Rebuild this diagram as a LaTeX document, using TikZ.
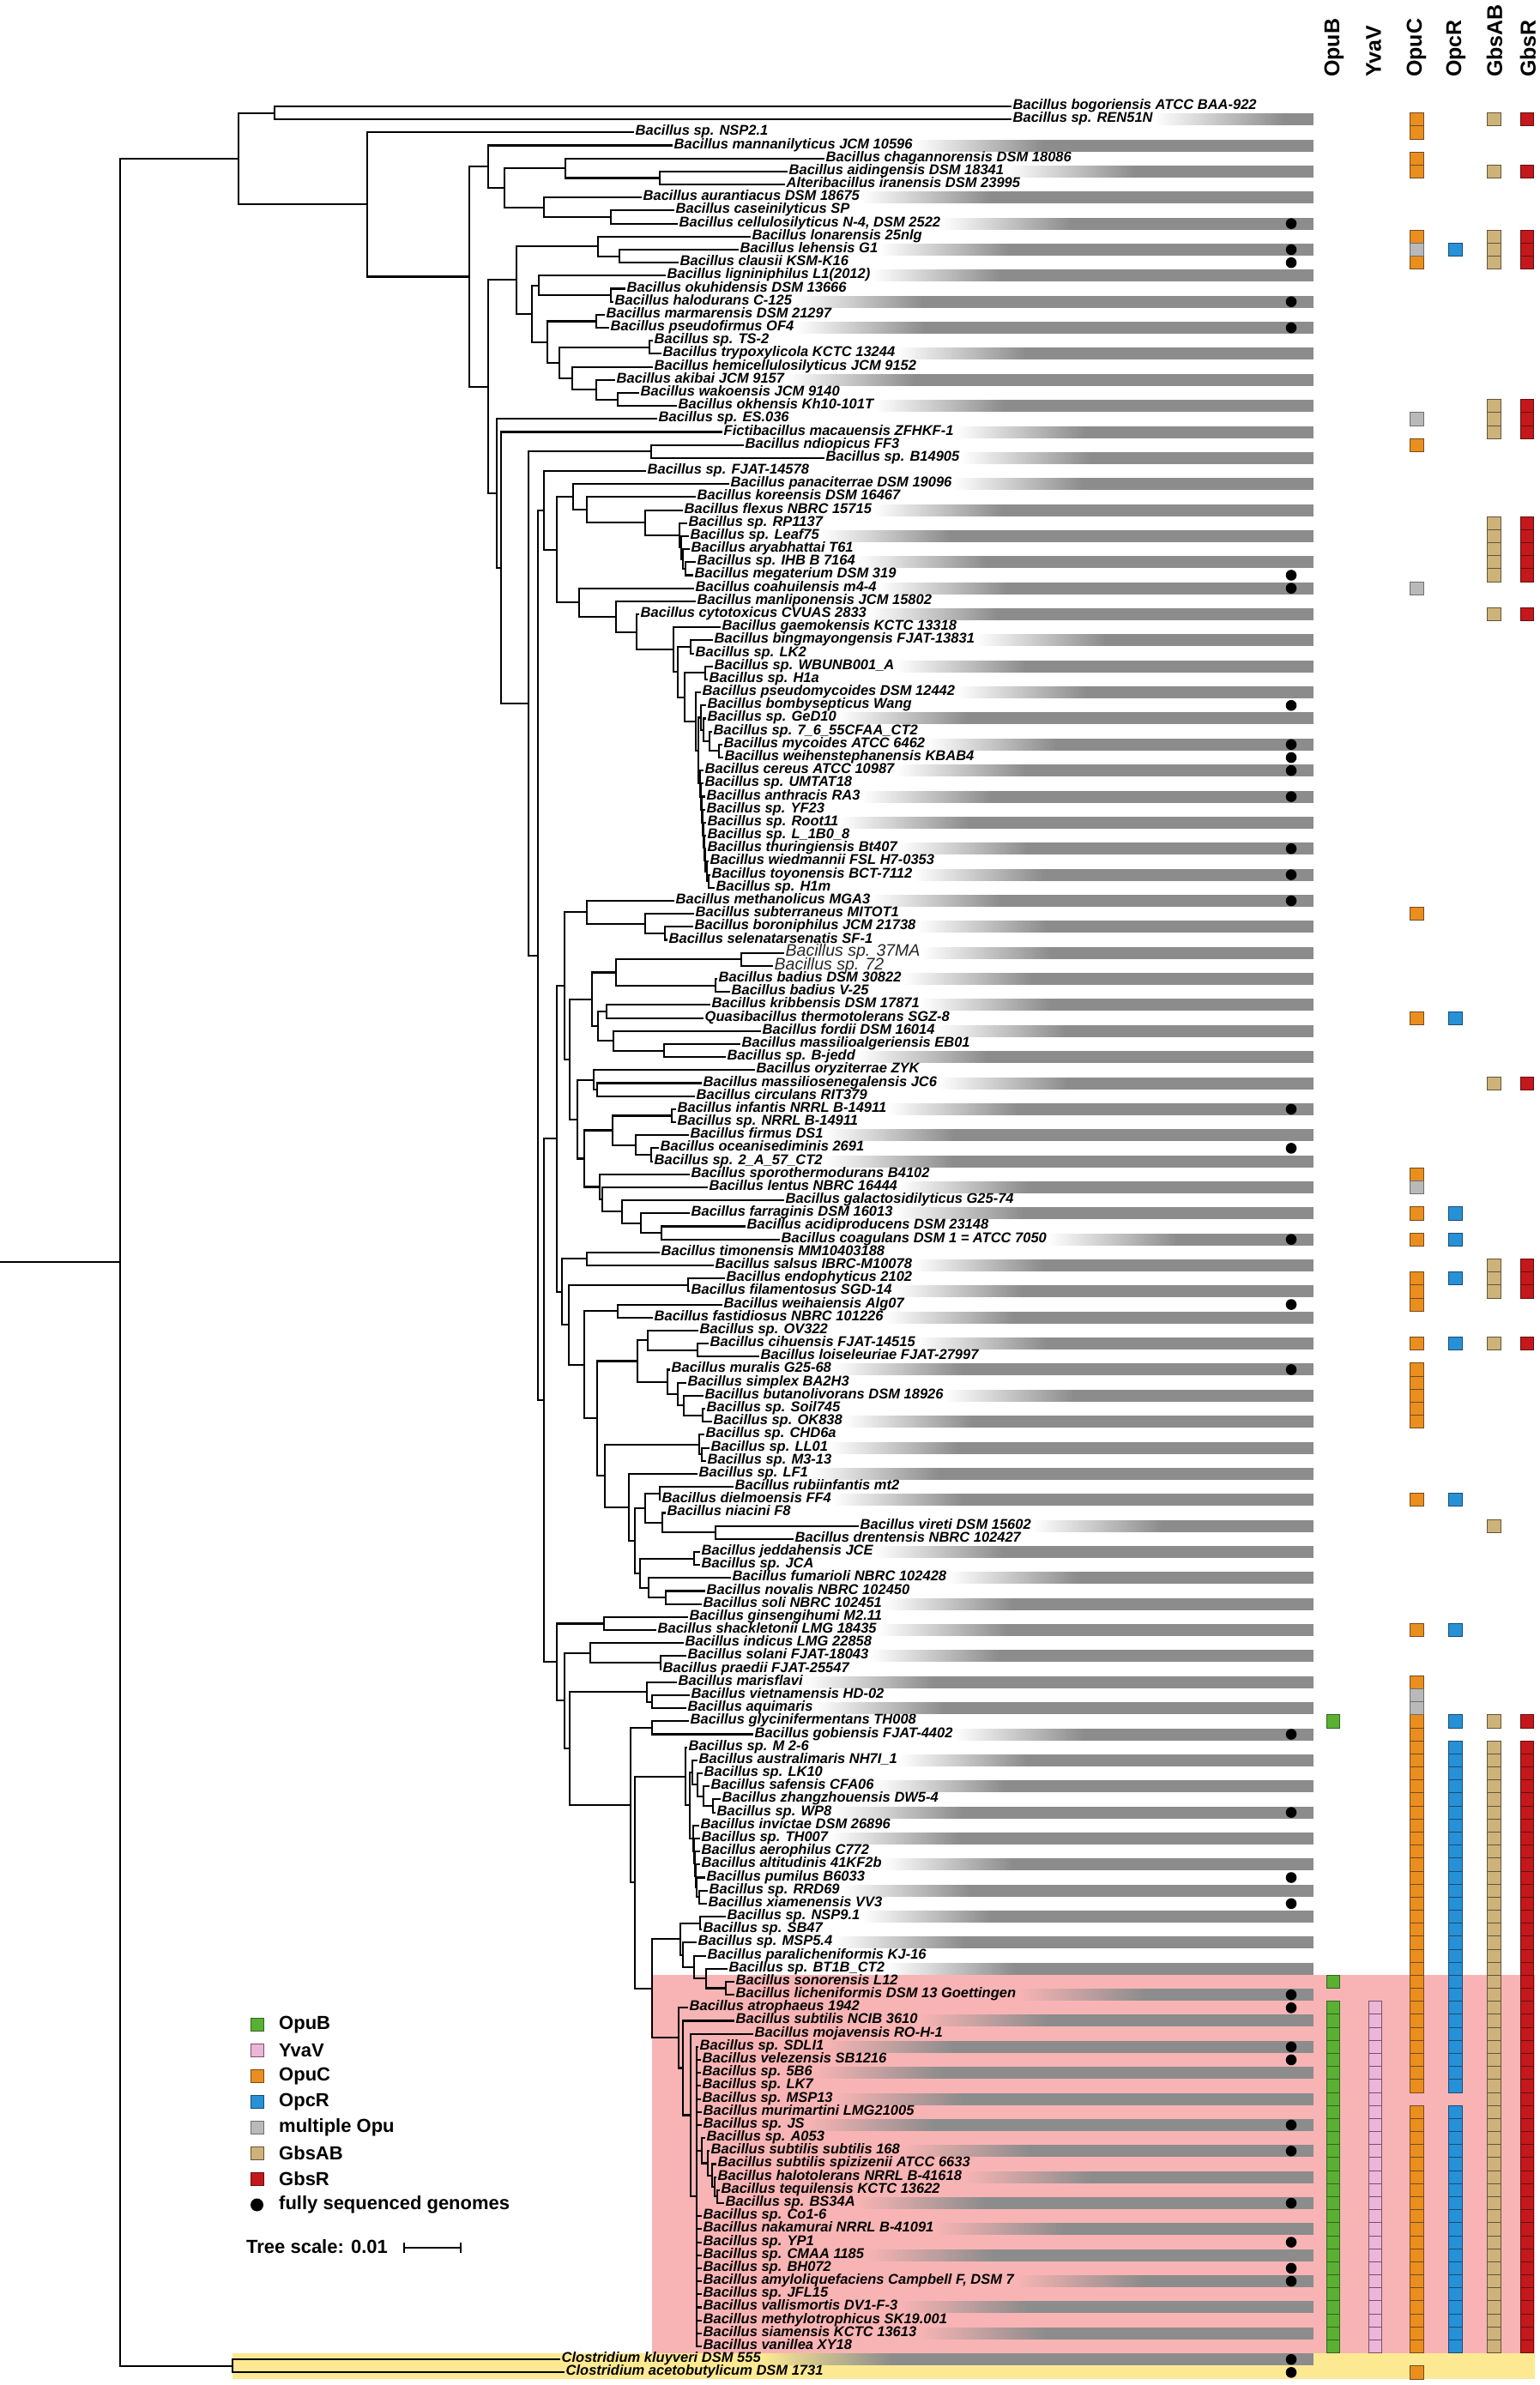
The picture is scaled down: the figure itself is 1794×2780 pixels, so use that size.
\documentclass[tikz,border=0pt]{standalone}
\usepackage{fontspec}
\setmainfont{Liberation Sans}
\usetikzlibrary{calc,fadings}
\definecolor{opub}{RGB}{90,176,50}\definecolor{opubd}{RGB}{50,100,30}
\definecolor{yvav}{RGB}{236,182,216}\definecolor{yvavd}{RGB}{120,80,105}
\definecolor{opuc}{RGB}{234,142,30}\definecolor{opucd}{RGB}{115,75,30}
\definecolor{opcr}{RGB}{38,145,215}\definecolor{opcrd}{RGB}{25,75,115}
\definecolor{multi}{RGB}{185,185,185}\definecolor{multid}{RGB}{110,110,110}
\definecolor{gbsab}{RGB}{205,178,122}\definecolor{gbsabd}{RGB}{100,85,55}
\definecolor{gbsr}{RGB}{196,24,28}\definecolor{gbsrd}{RGB}{100,15,15}
\definecolor{pinkhl}{RGB}{248,180,180}
\definecolor{yelhl}{RGB}{253,233,146}
\definecolor{barg}{RGB}{140,140,140}
\tikzfading[name=fadein, left color=transparent!100, right color=transparent!0]
\newcommand\lf[3]{\node[lbl] (L#1) at ({#2-2},{124+15.18*(#1-1)}) {#3};}
\newcommand\lfs[3]{\node[lbls] (L#1) at ({#2-2},{124+15.18*(#1-1)}) {#3};}
\newcommand\clade[3]{%
  \foreach \ch [count=\ci] in {#3}{\ifnum\ci=1 \global\let\cfirst\ch\fi\global\let\clast\ch}%
  \path let \p1=(\cfirst), \p2=(\clast) in node[tn] (#1) at (#2pt,{0.5*(\y1+\y2)}) {};%
  \foreach \ch in {#3}{\draw[br] (#1.west) |- (\ch.west);}%
}
\newcommand\rowbar[1]{%
  \fill[barg,path fading=fadein] ($(L#1.east)+(1,-7)$) rectangle ($(L#1.east)+(151,7)$);%
  \fill[barg] ($(L#1.east)+(150,-7)$) rectangle ($(L#1.east -| barend)+(0,7)$);}
\newcommand\mksq[3]{\filldraw[line width=0.8pt,fill=#3,draw=#3d] ({#1-7.7},{124+15.18*(#2-1)-7.59}) rectangle ({#1+7.7},{124+15.18*(#2-1)+7.59});}
\begin{document}
\begin{tikzpicture}[x=1pt,y=-1pt,
  lbl/.style={anchor=west,inner sep=1.5pt,text height=11pt,text depth=4pt,font=\bfseries\itshape\fontsize{16.5}{16.5}\selectfont},
  lbls/.style={anchor=west,inner sep=1.5pt,text height=13pt,text depth=4.5pt,font=\itshape\fontsize{19.5}{19.5}\selectfont,text=black!85},
  tn/.style={inner sep=0pt,minimum size=0pt,outer sep=0pt},
  br/.style={line width=2.1pt},
  hdr/.style={rotate=90,anchor=west,inner sep=0pt,font=\bfseries\fontsize{25}{25}\selectfont},
  legtxt/.style={anchor=west,inner sep=0pt,font=\bfseries\fontsize{22}{22}\selectfont}]
\useasboundingbox[fill=white] (0,0) rectangle (1794,2780);
\coordinate (barend) at (1531,0);
\coordinate (x0) at (0,0);
% highlights
\fill[pinkhl] (760,2302.3) rectangle (1789,2742.6);
\fill[yelhl] (271,2742.6) rectangle (1789,2772.8);
% headers
\foreach \t/\x in {OpuB/1555,YvaV/1601,OpuC/1651,OpcR/1697,GbsAB/1742,GbsR/1781}{\node[hdr] (h\t) at (\x,90) {\t};}
% leaves
\lf{1}{1181}{Bacillus bogoriensis ATCC BAA-922}
\lf{2}{1181}{Bacillus sp. REN51N}
\lf{3}{741}{Bacillus sp. NSP2.1}
\lf{4}{786}{Bacillus mannanilyticus JCM 10596}
\lf{5}{963}{Bacillus chagannorensis DSM 18086}
\lf{6}{920}{Bacillus aidingensis DSM 18341}
\lf{7}{917}{Alteribacillus iranensis DSM 23995}
\lf{8}{750}{Bacillus aurantiacus DSM 18675}
\lf{9}{788}{Bacillus caseinilyticus SP}
\lf{10}{792}{Bacillus cellulosilyticus N-4, DSM 2522}
\lf{11}{877}{Bacillus lonarensis 25nlg}
\lf{12}{863}{Bacillus lehensis G1}
\lf{13}{793}{Bacillus clausii KSM-K16}
\lf{14}{778}{Bacillus ligniniphilus L1(2012)}
\lf{15}{731}{Bacillus okuhidensis DSM 13666}
\lf{16}{717}{Bacillus halodurans C-125}
\lf{17}{707}{Bacillus marmarensis DSM 21297}
\lf{18}{712}{Bacillus pseudofirmus OF4}
\lf{19}{763}{Bacillus sp. TS-2}
\lf{20}{773}{Bacillus trypoxylicola KCTC 13244}
\lf{21}{763}{Bacillus hemicellulosilyticus JCM 9152}
\lf{22}{719}{Bacillus akibai JCM 9157}
\lf{23}{747}{Bacillus wakoensis JCM 9140}
\lf{24}{791}{Bacillus okhensis Kh10-101T}
\lf{25}{768}{Bacillus sp. ES.036}
\lf{26}{844}{Fictibacillus macauensis ZFHKF-1}
\lf{27}{869}{Bacillus ndiopicus FF3}
\lf{28}{963}{Bacillus sp. B14905}
\lf{29}{755}{Bacillus sp. FJAT-14578}
\lf{30}{852}{Bacillus panaciterrae DSM 19096}
\lf{31}{813}{Bacillus koreensis DSM 16467}
\lf{32}{798}{Bacillus flexus NBRC 15715}
\lf{33}{803}{Bacillus sp. RP1137}
\lf{34}{805}{Bacillus sp. Leaf75}
\lf{35}{806}{Bacillus aryabhattai T61}
\lf{36}{813}{Bacillus sp. IHB B 7164}
\lf{37}{810}{Bacillus megaterium DSM 319}
\lf{38}{811}{Bacillus coahuilensis m4-4}
\lf{39}{813}{Bacillus manliponensis JCM 15802}
\lf{40}{747}{Bacillus cytotoxicus CVUAS 2833}
\lf{41}{842}{Bacillus gaemokensis KCTC 13318}
\lf{42}{833}{Bacillus bingmayongensis FJAT-13831}
\lf{43}{811}{Bacillus sp. LK2}
\lf{44}{833}{Bacillus sp. WBUNB001\_A}
\lf{45}{827}{Bacillus sp. H1a}
\lf{46}{819}{Bacillus pseudomycoides DSM 12442}
\lf{47}{825}{Bacillus bombysepticus Wang}
\lf{48}{825}{Bacillus sp. GeD10}
\lf{49}{832}{Bacillus sp. 7\_6\_55CFAA\_CT2}
\lf{50}{844}{Bacillus mycoides ATCC 6462}
\lf{51}{845}{Bacillus weihenstephanensis KBAB4}
\lf{52}{822}{Bacillus cereus ATCC 10987}
\lf{53}{822}{Bacillus sp. UMTAT18}
\lf{54}{824}{Bacillus anthracis RA3}
\lf{55}{824}{Bacillus sp. YF23}
\lf{56}{825}{Bacillus sp. Root11}
\lf{57}{825}{Bacillus sp. L\_1B0\_8}
\lf{58}{825}{Bacillus thuringiensis Bt407}
\lf{59}{828}{Bacillus wiedmannii FSL H7-0353}
\lf{60}{830}{Bacillus toyonensis BCT-7112}
\lf{61}{835}{Bacillus sp. H1m}
\lf{62}{788}{Bacillus methanolicus MGA3}
\lf{63}{811}{Bacillus subterraneus MITOT1}
\lf{64}{810}{Bacillus boroniphilus JCM 21738}
\lf{65}{780}{Bacillus selenatarsenatis SF-1}
\lfs{66}{916}{Bacillus sp. 37MA}
\lfs{67}{903}{Bacillus sp. 72}
\lf{68}{838}{Bacillus badius DSM 30822}
\lf{69}{853}{Bacillus badius V-25}
\lf{70}{830}{Bacillus kribbensis DSM 17871}
\lf{71}{822}{Quasibacillus thermotolerans SGZ-8}
\lf{72}{889}{Bacillus fordii DSM 16014}
\lf{73}{865}{Bacillus massilioalgeriensis EB01}
\lf{74}{848}{Bacillus sp. B-jedd}
\lf{75}{882}{Bacillus oryziterrae ZYK}
\lf{76}{820}{Bacillus massiliosenegalensis JC6}
\lf{77}{812}{Bacillus circulans RIT379}
\lf{78}{790}{Bacillus infantis NRRL B-14911}
\lf{79}{790}{Bacillus sp. NRRL B-14911}
\lf{80}{805}{Bacillus firmus DS1}
\lf{81}{770}{Bacillus oceanisediminis 2691}
\lf{82}{763}{Bacillus sp. 2\_A\_57\_CT2}
\lf{83}{806}{Bacillus sporothermodurans B4102}
\lf{84}{827}{Bacillus lentus NBRC 16444}
\lf{85}{916}{Bacillus galactosidilyticus G25-74}
\lf{86}{806}{Bacillus farraginis DSM 16013}
\lf{87}{871}{Bacillus acidiproducens DSM 23148}
\lf{88}{911}{Bacillus coagulans DSM 1 = ATCC 7050}
\lf{89}{771}{Bacillus timonensis MM10403188}
\lf{90}{834}{Bacillus salsus IBRC-M10078}
\lf{91}{847}{Bacillus endophyticus 2102}
\lf{92}{806}{Bacillus filamentosus SGD-14}
\lf{93}{844}{Bacillus weihaiensis Alg07}
\lf{94}{763}{Bacillus fastidiosus NBRC 101226}
\lf{95}{816}{Bacillus sp. OV322}
\lf{96}{828}{Bacillus cihuensis FJAT-14515}
\lf{97}{887}{Bacillus loiseleuriae FJAT-27997}
\lf{98}{783}{Bacillus muralis G25-68}
\lf{99}{802}{Bacillus simplex BA2H3}
\lf{100}{822}{Bacillus butanolivorans DSM 18926}
\lf{101}{824}{Bacillus sp. Soil745}
\lf{102}{832}{Bacillus sp. OK838}
\lf{103}{823}{Bacillus sp. CHD6a}
\lf{104}{829}{Bacillus sp. LL01}
\lf{105}{825}{Bacillus sp. M3-13}
\lf{106}{815}{Bacillus sp. LF1}
\lf{107}{857}{Bacillus rubiinfantis mt2}
\lf{108}{772}{Bacillus dielmoensis FF4}
\lf{109}{778}{Bacillus niacini F8}
\lf{110}{1003}{Bacillus vireti DSM 15602}
\lf{111}{927}{Bacillus drentensis NBRC 102427}
\lf{112}{818}{Bacillus jeddahensis JCE}
\lf{113}{818}{Bacillus sp. JCA}
\lf{114}{854}{Bacillus fumarioli NBRC 102428}
\lf{115}{824}{Bacillus novalis NBRC 102450}
\lf{116}{820}{Bacillus soli NBRC 102451}
\lf{117}{804}{Bacillus ginsengihumi M2.11}
\lf{118}{767}{Bacillus shackletonii LMG 18435}
\lf{119}{799}{Bacillus indicus LMG 22858}
\lf{120}{802}{Bacillus solani FJAT-18043}
\lf{121}{773}{Bacillus praedii FJAT-25547}
\lf{122}{791}{Bacillus marisflavi}
\lf{123}{806}{Bacillus vietnamensis HD-02}
\lf{124}{802}{Bacillus aquimaris}
\lf{125}{805}{Bacillus glycinifermentans TH008}
\lf{126}{880}{Bacillus gobiensis FJAT-4402}
\lf{127}{803}{Bacillus sp. M 2-6}
\lf{128}{815}{Bacillus australimaris NH7I\_1}
\lf{129}{821}{Bacillus sp. LK10}
\lf{130}{829}{Bacillus safensis CFA06}
\lf{131}{842}{Bacillus zhangzhouensis DW5-4}
\lf{132}{836}{Bacillus sp. WP8}
\lf{133}{817}{Bacillus invictae DSM 26896}
\lf{134}{818}{Bacillus sp. TH007}
\lf{135}{818}{Bacillus aerophilus C772}
\lf{136}{818}{Bacillus altitudinis 41KF2b}
\lf{137}{824}{Bacillus pumilus B6033}
\lf{138}{827}{Bacillus sp. RRD69}
\lf{139}{826}{Bacillus xiamenensis VV3}
\lf{140}{848}{Bacillus sp. NSP9.1}
\lf{141}{820}{Bacillus sp. SB47}
\lf{142}{814}{Bacillus sp. MSP5.4}
\lf{143}{825}{Bacillus paralicheniformis KJ-16}
\lf{144}{850}{Bacillus sp. BT1B\_CT2}
\lf{145}{858}{Bacillus sonorensis L12}
\lf{146}{858}{Bacillus licheniformis DSM 13 Goettingen}
\lf{147}{804}{Bacillus atrophaeus 1942}
\lf{148}{858}{Bacillus subtilis NCIB 3610}
\lf{149}{880}{Bacillus mojavensis RO-H-1}
\lf{150}{816}{Bacillus sp. SDLI1}
\lf{151}{819}{Bacillus velezensis SB1216}
\lf{152}{819}{Bacillus sp. 5B6}
\lf{153}{819}{Bacillus sp. LK7}
\lf{154}{819}{Bacillus sp. MSP13}
\lf{155}{820}{Bacillus murimartini LMG21005}
\lf{156}{820}{Bacillus sp. JS}
\lf{157}{824}{Bacillus sp. A053}
\lf{158}{829}{Bacillus subtilis subtilis 168}
\lf{159}{837}{Bacillus subtilis spizizenii ATCC 6633}
\lf{160}{837}{Bacillus halotolerans NRRL B-41618}
\lf{161}{841}{Bacillus tequilensis KCTC 13622}
\lf{162}{846}{Bacillus sp. BS34A}
\lf{163}{820}{Bacillus sp. Co1-6}
\lf{164}{820}{Bacillus nakamurai NRRL B-41091}
\lf{165}{820}{Bacillus sp. YP1}
\lf{166}{820}{Bacillus sp. CMAA 1185}
\lf{167}{820}{Bacillus sp. BH072}
\lf{168}{820}{Bacillus amyloliquefaciens Campbell F, DSM 7}
\lf{169}{820}{Bacillus sp. JFL15}
\lf{170}{820}{Bacillus vallismortis DV1-F-3}
\lf{171}{820}{Bacillus methylotrophicus SK19.001}
\lf{172}{820}{Bacillus siamensis KCTC 13613}
\lf{173}{820}{Bacillus vanillea XY18}
\lf{174}{655}{Clostridium kluyveri DSM 555}
\lf{175}{660}{Clostridium acetobutylicum DSM 1731}
% bars on even rows
\foreach \r in {2,4,...,174}{\rowbar{\r}}
% tree
\clade{nC}{320}{L1,L2}
\clade{nK}{769}{L6,L7}
\clade{nI}{659}{L5,nK}
\clade{nLL}{712}{L9,L10}
\clade{nJ}{634}{L8,nLL}
\clade{nH}{588}{nI,nJ}
\clade{nF}{569}{L4,nH}
\clade{nQ}{722}{L12,L13}
\clade{nO}{697}{L11,nQ}
\clade{nT}{712}{L15,L16}
\clade{nR}{628}{L14,nT}
\clade{nU}{695}{L17,L18}
\clade{nW}{757}{L19,L20}
\clade{nZ}{720}{L23,L24}
\clade{nY}{695}{L22,nZ}
\clade{nX}{667}{L21,nY}
\clade{nV}{652}{nW,nX}
\clade{nS}{638}{nU,nV}
\clade{nP}{620}{nR,nS}
\clade{nM}{602}{nO,nP}
\clade{nK2}{759}{L27,L28}
\clade{nm4}{799}{L36,L37}
\clade{nm3}{796}{L35,nm4}
\clade{nm2}{794}{L34,nm3}
\clade{nN12}{792}{L33,nm2}
\clade{nN11}{752}{L32,nN12}
\clade{nN10}{684}{L31,nN11}
\clade{nN8}{668}{L30,nN10}
\clade{nN22}{822}{L44,L45}
\clade{nA7}{838}{L50,L51}
\clade{nA6}{827}{L49,nA7}
\clade{nA5}{820}{L48,nA6}
\clade{nA1}{817}{L47,nA5}
\clade{nA15}{826}{L60,L61}
\clade{nA14}{824}{L59,nA15}
\clade{nA13}{822}{L58,nA14}
\clade{nA12}{821}{L57,nA13}
\clade{nA11}{820}{L56,nA12}
\clade{nA10}{819}{L55,nA11}
\clade{nA9}{818}{L54,nA10}
\clade{nA8}{817}{L53,nA9}
\clade{nA2}{816}{L52,nA8}
\clade{nN24}{814}{nA1,nA2}
\clade{nN23}{811}{L46,nN24}
\clade{nN21}{798}{nN22,nN23}
\clade{nN20}{805}{L42,L43}
\clade{nN19}{790}{nN20,nN21}
\clade{nN18}{785}{L41,nN19}
\clade{nN17}{742}{L40,nN18}
\clade{nN16}{718}{L39,nN17}
\clade{nN9}{675}{L38,nN16}
\clade{nN7}{649}{nN8,nN9}
\clade{nN5}{634}{L29,nN7}
\clade{nP3}{775}{L64,L65}
\clade{nP2}{752}{L63,nP3}
\clade{nP1}{684}{L62,nP2}
\clade{nQ1a}{864}{L66,L67}
\clade{nQ1b}{834}{L68,L69}
\clade{nQ1}{718}{nQ1a,nQ1b}
\clade{nQ4}{707}{L70,L71}
\clade{nQ6}{774}{L73,L74}
\clade{nQ5}{715}{L72,nQ6}
\clade{nQ3}{697}{nQ4,nQ5}
\clade{nQ2}{690}{nQ1,nQ3}
\clade{nR2}{696}{L76,L77}
\clade{nR1}{692}{L75,nR2}
\clade{nR6}{783}{L78,L79}
\clade{nR8}{759}{L81,L82}
\clade{nR7}{741}{L80,nR8}
\clade{nR4}{714}{nR6,nR7}
\clade{nR12}{771}{L87,L88}
\clade{nR11}{747}{L86,nR12}
\clade{nR10}{725}{L85,nR11}
\clade{nR9}{702}{L84,nR10}
\clade{nR5}{699}{L83,nR9}
\clade{nR3}{681}{nR4,nR5}
\clade{nR0}{673}{nR1,nR3}
\clade{nQ0}{664}{nQ2,nR0}
\clade{nP0}{658}{nP1,nQ0}
\clade{nV3}{684}{L89,L90}
\clade{nS1}{802}{L91,L92}
\clade{nS3}{720}{L93,L94}
\clade{nS9}{813}{L96,L97}
\clade{nS7}{755}{L95,nS9}
\clade{nS12}{819}{L101,L102}
\clade{nS11}{797}{L100,nS12}
\clade{nS10}{790}{L99,nS11}
\clade{nS8}{778}{L98,nS10}
\clade{nS5}{743}{nS7,nS8}
\clade{nS15}{818}{L104,L105}
\clade{nS13}{815}{L103,nS15}
\clade{nT1}{769}{L107,L108}
\clade{nT2}{834}{L110,L111}
\clade{nT3}{772}{L109,nT2}
\clade{nT4}{752}{nT1,nT3}
\clade{nT6}{809}{L112,L113}
\clade{nT8}{776}{L115,L116}
\clade{nT7}{756}{L114,nT8}
\clade{nT5}{746}{nT6,nT7}
\clade{nS16}{740}{nT4,nT5}
\clade{nS14}{733}{L106,nS16}
\clade{nS6}{705}{nS13,nS14}
\clade{nS4}{696}{nS5,nS6}
\clade{nS2}{681}{nS3,nS4}
\clade{nS0}{663}{nS1,nS2}
\clade{nV2}{655}{nV3,nS0}
\clade{nV1}{649}{nP0,nV2}
\clade{nU1}{704}{L117,L118}
\clade{nU4}{770}{L120,L121}
\clade{nU3}{688}{L119,nU4}
\clade{nU5}{760}{L123,L124}
\clade{nU6}{754}{L122,nU5}
\clade{nU9}{760}{L125,L126}
\clade{nW5b}{831}{L131,L132}
\clade{nW5}{820}{L130,nW5b}
\clade{nW4}{813}{L129,nW5}
\clade{nW3}{807}{L128,nW4}
\clade{nW11}{815}{L138,L139}
\clade{nW10}{812}{L137,nW11}
\clade{nW9}{811}{L136,nW10}
\clade{nW8}{810}{L135,nW9}
\clade{nW7}{809}{L134,nW8}
\clade{nW6}{808}{L133,nW7}
\clade{nW2}{804}{nW3,nW6}
\clade{nW1}{799}{L127,nW2}
\clade{nX2}{816}{L140,L141}
\clade{nX6}{846}{L145,L146}
\clade{nX5}{823}{L144,nX6}
\clade{nX4}{809}{L143,nX5}
\clade{nX3}{796}{L142,nX4}
\clade{nX1}{793}{nX2,nX3}
\clade{nY7b}{836}{L161,L162}
\clade{nY7}{833}{L160,nY7b}
\clade{nY6}{830}{L159,nY7}
\clade{nY5}{825}{L158,nY6}
\clade{nY4}{818}{L157,nY5}
\clade{nY3}{812}{L150,L151,L152,L153,L154,L155,L156,nY4,L163,L164,L165,L166,L167,L168,L169,L170,L171,L172,L173}
\clade{nY2}{805}{L149,nY3}
\clade{nY1b}{796}{L148,nY2}
\clade{nY1}{791}{L147,nY1b}
\clade{nU12}{760}{nX1,nY1}
\clade{nU10}{740}{nW1,nU12}
\clade{nU8}{735}{nU9,nU10}
\clade{nU7}{664}{nU6,nU8}
\clade{nU2}{658}{nU3,nU7}
\clade{nU0}{649}{nU1,nU2}
\clade{nN6}{634}{nV1,nU0}
\clade{nN4}{627}{nN5,nN6}
\clade{nN3}{616}{nK2,nN4}
\clade{nN2}{584}{L26,nN3}
\clade{nN}{579}{L25,nN2}
\clade{nG}{569}{nM,nN}
\clade{nE}{547}{nF,nG}
\clade{nD}{428}{L3,nE}
\clade{nB}{278}{nC,nD}
\clade{nCl}{271}{L174,L175}
\clade{nRoot}{140}{nB,nCl}
\draw[br] (x0 |- nRoot.west) -- (nRoot.west);
% fully sequenced genomes
\foreach \r in {10,12,13,16,18,37,38,47,50,51,52,54,58,60,62,78,81,88,93,98,126,132,137,139,146,147,150,151,156,158,162,165,167,168,174,175}{\fill (1505,{124+15.18*(\r-1)}) circle (6.3pt);}
% OpuC
\foreach \r in {2,3,5,6,11,13,27,63,71,83,86,88,91,92,93,96,98,99,100,101,102,108,118,122,175}{\mksq{1651.5}{\r}{opuc}}
\foreach \r in {125,...,153}{\mksq{1651.5}{\r}{opuc}}
\foreach \r in {155,...,173}{\mksq{1651.5}{\r}{opuc}}
\foreach \r in {12,25,38,84,123,124}{\mksq{1651.5}{\r}{multi}}
% OpcR
\foreach \r in {12,71,86,88,91,96,108,118,125}{\mksq{1696.3}{\r}{opcr}}
\foreach \r in {127,...,153}{\mksq{1696.3}{\r}{opcr}}
\foreach \r in {155,...,173}{\mksq{1696.3}{\r}{opcr}}
% GbsAB
\foreach \r in {2,6,11,12,13,24,25,26,33,34,35,36,37,40,76,90,91,92,96,110,125}{\mksq{1741.3}{\r}{gbsab}}
\foreach \r in {127,...,173}{\mksq{1741.3}{\r}{gbsab}}
% GbsR
\foreach \r in {2,6,11,12,13,24,25,26,33,34,35,36,37,40,76,90,91,92,96,125}{\mksq{1780}{\r}{gbsr}}
\foreach \r in {127,...,173}{\mksq{1780}{\r}{gbsr}}
% OpuB
\foreach \r in {125,145}{\mksq{1554}{\r}{opub}}
\foreach \r in {147,...,173}{\mksq{1554}{\r}{opub}}
% YvaV
\foreach \r in {147,...,173}{\mksq{1603}{\r}{yvav}}
% legend
\foreach \t/\col [count=\k] in {OpuB/opub,YvaV/yvav,OpuC/opuc,OpcR/opcr,multiple Opu/multi,GbsAB/gbsab,GbsR/gbsr}{
  \filldraw[line width=0.8pt,fill=\col,draw=\col d] (292,{2360+30*(\k-1)-7.5}) rectangle (307,{2360+30*(\k-1)+7.5});
  \node[legtxt] (leg\k) at (325,{2360+30*(\k-1)}) {\t};}
\fill (299.5,2570) circle (7.5pt);
\node[legtxt] (leg8) at (325,2570) {fully sequenced genomes};
\node[legtxt] (ts) at (287,2619) {Tree scale: 0.01};
\draw[line width=2pt] (471,2620) -- (537,2620);
\draw[line width=2pt] (471,2614) -- (471,2626);
\draw[line width=2pt] (537,2614) -- (537,2626);
\end{tikzpicture}
\end{document}
